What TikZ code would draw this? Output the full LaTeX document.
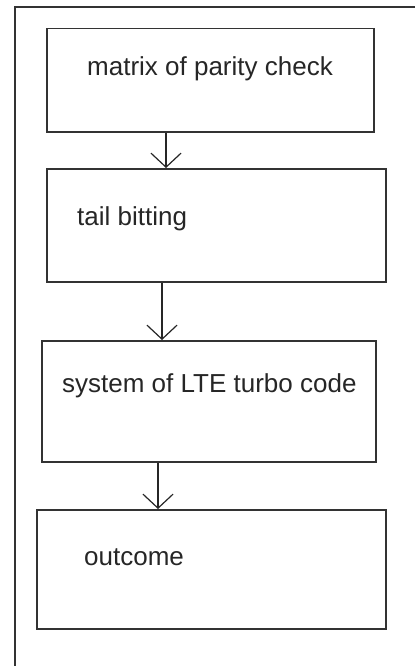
\documentclass[tikz,border=0pt]{standalone}
\usepackage{fontspec}
\setmainfont{Liberation Sans}
\usetikzlibrary{arrows.meta}

\begin{document}
\begin{tikzpicture}[x=1pt,y=-1pt,
  stepbox/.style={rectangle,draw=black!80,line width=1.5pt,inner sep=0pt,anchor=north west},
  steptext/.style={anchor=base west,inner sep=0pt,text=black!85,font=\fontsize{26}{30}\selectfont},
  flow/.style={draw=black!85,line width=1.2pt,-{Straight Barb[length=14pt,width=30pt]}}]
  \useasboundingbox (0,0) rectangle (415,666);
  % frame
  \draw[black!80,line width=1.5pt] (415,7) -- (15,7) -- (15,666);

  \foreach \name/\x/\y/\w/\h in {b1/46/28/327/103, b2/46/168/339/113, b3/41/340/334/121, b4/36/509/349/119}
    \node [stepbox,minimum width=\w,minimum height=\h] (\name) at (\x,\y) {};

  \node [steptext] (t1) at (87,76) {matrix of parity check};
  \node [steptext] (t2) at (77,225) {tail bitting};
  \node [steptext] (t3) at (62,392) {system of LTE turbo code};
  \node [steptext] (t4) at (84,565) {outcome};

  \foreach \a/\b/\x in {b1/b2/166, b2/b3/162, b3/b4/158}
    \draw[flow] (\x,0 |- \a.south) -- (\x,0 |- \b.north);

\end{tikzpicture}
\end{document}
